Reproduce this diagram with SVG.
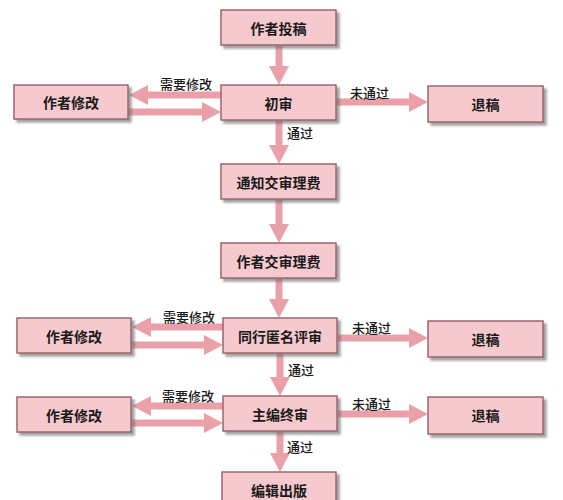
<svg xmlns="http://www.w3.org/2000/svg" width="563" height="500" viewBox="0 0 563 500">
  <style>
    .box rect { fill: #f5c9ce; stroke: #9a666d; stroke-width: 1.5; filter: url(#shadow); }
    .box text { font-family: "Noto Sans CJK SC", "Noto Sans", sans-serif; font-size: 14px; font-weight: 700; fill: #1a1a1a; text-anchor: middle; dominant-baseline: central; }
    .conn line { stroke: #eaa0a9; stroke-width: 7; marker-end: url(#head); }
    .lbl { font-family: "Noto Sans CJK SC", "Noto Sans", sans-serif; font-size: 13px; font-weight: 500; fill: #1a1a1a; dominant-baseline: central; }
  </style>
  <defs>
    <filter id="shadow" x="-10%" y="-20%" width="130%" height="160%">
      <feDropShadow dx="3" dy="3" stdDeviation="1.2" flood-color="#666" flood-opacity="0.6"/>
    </filter>
    <marker id="head" markerUnits="userSpaceOnUse" markerWidth="19" markerHeight="20" refX="0" refY="10" orient="auto">
      <path d="M0,0 L19,10 L0,20 Z" fill="#eaa0a9"/>
    </marker>
  </defs>
  <rect width="563" height="500" fill="#ffffff"/>

  <g class="conn" id="connectors">
    <line x1="279" y1="46" x2="279" y2="66"/>
    <line x1="279" y1="121" x2="279" y2="145"/>
    <line x1="279" y1="200" x2="279" y2="224"/>
    <line x1="279" y1="279" x2="279" y2="299"/>
    <line x1="280" y1="354" x2="280" y2="377"/>
    <line x1="280" y1="432" x2="280" y2="453"/>
    <line x1="221" y1="95" x2="148" y2="95"/>
    <line x1="129" y1="112" x2="202" y2="112"/>
    <line x1="337" y1="102" x2="409" y2="102"/>
    <line x1="223" y1="327" x2="151" y2="327"/>
    <line x1="132" y1="345" x2="204" y2="345"/>
    <line x1="338" y1="338" x2="409" y2="338"/>
    <line x1="223" y1="406" x2="151" y2="406"/>
    <line x1="132" y1="423" x2="204" y2="423"/>
    <line x1="338" y1="414" x2="409" y2="414"/>
  </g>

  <g id="labels">
    <text class="lbl" x="160" y="83">需要修改</text>
    <text class="lbl" x="350" y="92">未通过</text>
    <text class="lbl" x="287" y="132">通过</text>
    <text class="lbl" x="163" y="316">需要修改</text>
    <text class="lbl" x="352" y="327">未通过</text>
    <text class="lbl" x="288" y="369">通过</text>
    <text class="lbl" x="162" y="395">需要修改</text>
    <text class="lbl" x="352" y="403">未通过</text>
    <text class="lbl" x="287" y="446">通过</text>
  </g>

  <g class="box" id="n-submit"><rect x="221" y="10" width="115" height="35"/><text x="278.5" y="28">作者投稿</text></g>
  <g class="box" id="n-first"><rect x="221" y="85" width="115" height="35"/><text x="278.5" y="103">初审</text></g>
  <g class="box" id="n-revise1"><rect x="14" y="85" width="114" height="34"/><text x="71" y="102">作者修改</text></g>
  <g class="box" id="n-reject1"><rect x="428" y="86" width="115" height="36"/><text x="485.5" y="104">退稿</text></g>
  <g class="box" id="n-notify"><rect x="221" y="164" width="115" height="35"/><text x="278.5" y="182">通知交审理费</text></g>
  <g class="box" id="n-pay"><rect x="221" y="243" width="115" height="35"/><text x="278.5" y="261">作者交审理费</text></g>
  <g class="box" id="n-peer"><rect x="223" y="318" width="114" height="35"/><text x="280" y="336">同行匿名评审</text></g>
  <g class="box" id="n-revise2"><rect x="17" y="318" width="114" height="35"/><text x="74" y="336">作者修改</text></g>
  <g class="box" id="n-reject2"><rect x="428" y="321" width="115" height="36"/><text x="485.5" y="339">退稿</text></g>
  <g class="box" id="n-final"><rect x="223" y="396" width="114" height="35"/><text x="280" y="414">主编终审</text></g>
  <g class="box" id="n-revise3"><rect x="17" y="397" width="114" height="35"/><text x="74" y="415">作者修改</text></g>
  <g class="box" id="n-reject3"><rect x="428" y="397" width="115" height="37"/><text x="485.5" y="415">退稿</text></g>
  <g class="box" id="n-publish"><rect x="222" y="472" width="114" height="36"/><text x="279" y="490">编辑出版</text></g>
</svg>
